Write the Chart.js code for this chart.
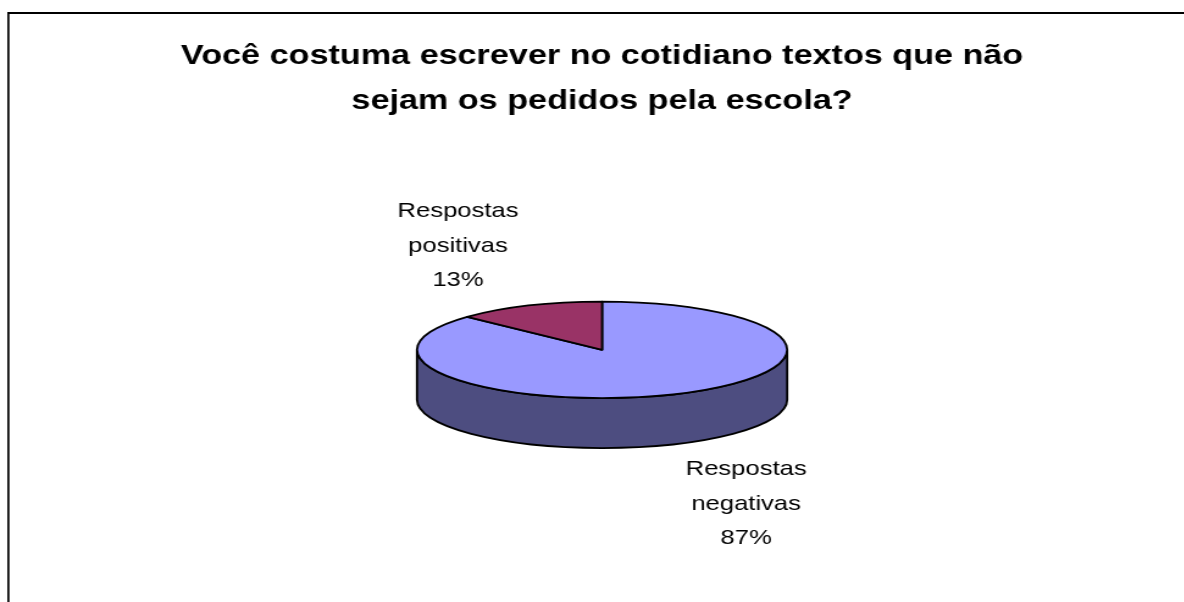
<!DOCTYPE html>
<html>
<head>
<meta charset="utf-8">
<script src="https://cdn.jsdelivr.net/npm/chart.js@4.4.0/dist/chart.umd.min.js"></script>
<style>
  html, body { margin: 0; padding: 0; background: #fff; overflow: hidden; width: 1184px; height: 602px; }
  /* the original picture is stretched sideways, so the whole chart is too */
  #wrap { position: absolute; left: 0; top: 0; width: 990px; height: 602px;
          transform: scaleX(1.22); transform-origin: 0 0; }
  #edge { position: absolute; left: 1172px; top: 16px; width: 12px; height: 586px; background: #fff; z-index: 5; }
</style>
</head>
<body>
<div id="wrap"><canvas id="chart"></canvas></div>
<div id="edge"></div>
<script>
const categories = ['Respostas negativas', 'Respostas positivas']
const values = [87, 13]
const topColors = ['#9999FF', '#993366']
const sideColors = ['#4D4D80', '#4D1A33']
const titleLines = ['Você costuma escrever no cotidiano textos que não', 'sejam os pedidos pela escola?']

const TILT = 0.318   // vertical squash of the pie
const DEPTH = 50     // thickness of the 3d pie

// box of the spreadsheet chart, only left and top edges are in view
const frame = {
    id: 'frame',
    beforeDraw(chart) {
        const ctx = chart.ctx
        ctx.save()
        ctx.fillStyle = '#000'
        ctx.fillRect(6, 12, 1.7, chart.height)
        ctx.fillRect(6, 12, chart.width, 2)
        ctx.restore()
    }
}

// draws the slices as a tilted 3d pie from the arc elements
const pie3d = {
    id: 'pie3d',
    beforeDatasetsDraw(chart) {
        const ctx = chart.ctx
        const arcs = chart.getDatasetMeta(0).data
        ctx.save()
        ctx.lineWidth = 1.8
        ctx.strokeStyle = '#000'
        ctx.lineJoin = 'round'

        // side walls, only the front half is visible
        arcs.forEach((arc, i) => {
            const { x, y, startAngle, endAngle, outerRadius: r } = arc.getProps(['x', 'y', 'startAngle', 'endAngle', 'outerRadius'])
            for (const base of [-2 * Math.PI, 0, 2 * Math.PI]) {
                const a0 = Math.max(startAngle, base)
                const a1 = Math.min(endAngle, base + Math.PI)
                if (a1 <= a0) continue
                ctx.beginPath()
                ctx.ellipse(x, y, r, r * TILT, 0, a0, a1)
                ctx.lineTo(x + r * Math.cos(a1), y + DEPTH + r * TILT * Math.sin(a1))
                ctx.ellipse(x, y + DEPTH, r, r * TILT, 0, a1, a0, true)
                ctx.closePath()
                ctx.fillStyle = sideColors[i]
                ctx.fill()
                ctx.stroke()
            }
        })

        // top faces
        arcs.forEach((arc, i) => {
            const { x, y, startAngle, endAngle, outerRadius: r } = arc.getProps(['x', 'y', 'startAngle', 'endAngle', 'outerRadius'])
            ctx.beginPath()
            ctx.moveTo(x, y)
            ctx.ellipse(x, y, r, r * TILT, 0, startAngle, endAngle)
            ctx.closePath()
            ctx.fillStyle = topColors[i]
            ctx.fill()
            ctx.stroke()
        })

        // labels outside the slices
        const total = values.reduce((a, b) => a + b, 0)
        ctx.fillStyle = '#000'
        ctx.font = "21px 'Liberation Sans', Arial, sans-serif"
        ctx.textAlign = 'center'
        ctx.textBaseline = 'middle'
        arcs.forEach((arc, i) => {
            const { x, y, startAngle, endAngle, outerRadius: r } = arc.getProps(['x', 'y', 'startAngle', 'endAngle', 'outerRadius'])
            const mid = (startAngle + endAngle) / 2
            const lx = x + r * 1.96 * Math.cos(mid)
            const ly = y + r * TILT * 2.35 * Math.sin(mid) + (Math.sin(mid) > 0 ? DEPTH : 0)
            const lines = categories[i].split(' ').concat(Math.round(values[i] / total * 100) + '%')
            lines.forEach((t, j) => ctx.fillText(t, lx, ly + (j - 1) * 34.5))
        })
        ctx.restore()
        return false
    }
}

new Chart(document.getElementById('chart'), {
    type: 'pie',
    data: {
        labels: categories,
        datasets: [{
            data: values,
            backgroundColor: topColors,
            borderColor: '#000',
            borderWidth: 1,
        }],
    },
    options: {
        responsive: true,
        maintainAspectRatio: false,
        animation: false,
        layout: { padding: { top: 12, left: 0, right: 3, bottom: 100 } },
        plugins: {
            legend: { display: false },
            tooltip: { enabled: false },
            title: {
                display: true,
                text: titleLines,
                color: '#000',
                font: { family: "'Liberation Sans', Arial, sans-serif", size: 28, weight: 'bold', lineHeight: 1.6 },
                padding: { top: 22, bottom: 74 },
            },
        },
    },
    plugins: [frame, pie3d],
})
</script>
</body>
</html>
